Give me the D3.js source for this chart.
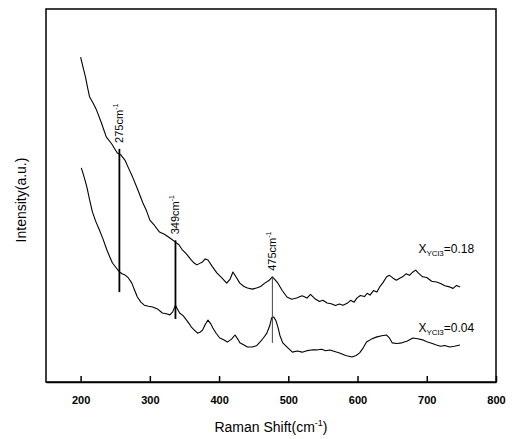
<!DOCTYPE html>
<html>
<head>
<meta charset="utf-8">
<script src="https://cdn.jsdelivr.net/npm/d3@7/dist/d3.min.js"></script>
<style>
  html, body { margin: 0; padding: 0; background: #fff; }
  svg { display: block; font-family: "Liberation Sans", Arial, sans-serif; }
</style>
</head>
<body>
<svg id="chart" width="518" height="439"></svg>
<script>
// Raman shift (cm-1) and intensity (a.u.) for X_YCl3 = 0.18 (upper curve)
const shiftHigh = [200, 204, 207, 210, 213, 218, 223, 230, 237, 245, 253, 258, 264, 270, 275, 282, 290, 295, 300, 307, 314, 321, 329, 337, 342, 347, 353, 360, 364, 368, 372, 376, 380, 384, 390, 397, 404, 411, 416, 420, 425, 430, 436, 441, 448, 454, 460, 466, 472, 477, 481, 485, 491, 498, 505, 512, 520, 527, 532, 538, 545, 550, 556, 562, 568, 574, 579, 585, 590, 595, 599, 604, 610, 614, 618, 623, 628, 632, 637, 642, 646, 651, 656, 661, 665, 670, 675, 680, 684, 688, 694, 700, 707, 714, 720, 726, 733, 738, 743, 748];
const intHigh  = [87.1, 84.0, 81.8, 79.0, 76.4, 74.8, 72.9, 69.5, 65.7, 63.8, 61.4, 60.9, 59.5, 57.0, 55.0, 51.8, 48.0, 46.0, 43.4, 41.9, 40.2, 39.6, 38.6, 37.5, 36.8, 35.4, 34.3, 32.7, 31.9, 31.4, 31.8, 32.2, 33.0, 32.7, 31.0, 29.2, 27.9, 26.5, 27.6, 29.5, 28.0, 26.5, 25.6, 25.2, 24.9, 25.2, 25.6, 26.5, 27.2, 28.2, 27.4, 26.5, 24.6, 22.8, 22.2, 22.5, 23.1, 22.5, 23.5, 22.4, 21.6, 21.9, 21.2, 21.0, 20.5, 20.9, 20.6, 21.1, 21.9, 21.4, 22.5, 23.2, 22.9, 23.8, 23.3, 24.5, 24.1, 25.5, 26.7, 28.2, 28.6, 27.9, 27.3, 27.8, 28.2, 29.0, 28.6, 29.5, 30.0, 29.2, 28.2, 28.0, 27.0, 26.8, 26.4, 25.8, 25.5, 25.1, 25.9, 25.5];

// Raman shift (cm-1) and intensity (a.u.) for X_YCl3 = 0.04 (lower curve)
const shiftLow = [201, 205, 209, 213, 217, 222, 227, 232, 238, 242, 246, 251, 256, 260, 264, 269, 274, 278, 282, 287, 292, 298, 304, 311, 318, 324, 329, 333, 337, 340, 343, 348, 353, 357, 360, 365, 369, 373, 376, 380, 384, 388, 391, 396, 401, 406, 412, 418, 423, 427, 430, 436, 441, 448, 454, 459, 464, 469, 473, 476, 479, 482, 485, 488, 492, 499, 506, 513, 520, 527, 534, 541, 548, 554, 560, 567, 574, 583, 592, 598, 603, 608, 613, 620, 628, 635, 642, 646, 650, 657, 664, 672, 680, 687, 694, 700, 707, 714, 720, 726, 733, 740, 748];
const intLow   = [57.4, 55.0, 52.3, 48.8, 45.6, 43.0, 40.8, 38.5, 35.4, 33.6, 31.9, 30.7, 29.5, 29.0, 28.7, 27.9, 26.5, 24.6, 22.8, 21.4, 20.6, 20.3, 20.1, 19.6, 18.5, 18.3, 18.0, 18.8, 20.6, 19.5, 18.5, 17.8, 16.6, 15.6, 14.7, 13.8, 13.1, 13.4, 13.9, 15.4, 16.6, 15.6, 14.5, 13.0, 11.8, 11.4, 10.7, 11.5, 12.6, 11.5, 10.5, 9.9, 9.4, 9.4, 9.7, 10.7, 11.8, 13.1, 15.0, 17.2, 17.4, 16.5, 14.7, 12.4, 10.5, 9.2, 8.0, 8.3, 8.0, 8.4, 8.6, 8.6, 8.8, 8.4, 8.6, 8.2, 7.8, 7.1, 6.7, 7.1, 7.8, 9.1, 10.7, 11.5, 12.1, 12.4, 12.6, 11.8, 10.5, 10.3, 10.5, 11.0, 11.8, 11.6, 11.3, 10.8, 10.4, 9.9, 9.6, 9.8, 9.4, 9.6, 9.9];

// Annotated peak markers: drawn position (cm-1), label, top and bottom of marker line (a.u.)
const peakPos    = [256, 337, 477];
const peakLabels = ["275", "349", "475"];
const peakTop    = [62.5, 38.0, 28.2];
const peakBottom = [24.1, 16.9, 10.5];

// Axis ticks
const xTicks = [200, 300, 400, 500, 600, 700, 800];

// Series labels
const seriesLabels = [
  { sub: "YCl3", val: "0.18", x: 688, y: 34.5 },
  { sub: "YCl3", val: "0.04", x: 688, y: 13.4 }
];

const svg = d3.select("#chart");
const mLeft = 46, mRight = 496, mTop = 9, mBottom = 382;

const x = d3.scaleLinear().domain([150, 800]).range([mLeft, mRight]);
const y = d3.scaleLinear().domain([0, 100]).range([mBottom, mTop]);

// Frame
svg.append("rect")
  .attr("x", mLeft).attr("y", mTop)
  .attr("width", mRight - mLeft).attr("height", mBottom - mTop)
  .attr("fill", "none").attr("stroke", "#000").attr("stroke-width", 1.5);

// X axis with inward ticks
const xAxis = d3.axisBottom(x).tickValues(xTicks).tickSizeInner(-6).tickSizeOuter(0).tickPadding(14);
const gx = svg.append("g").attr("transform", `translate(0,${mBottom})`).call(xAxis);
gx.select(".domain").attr("stroke", "#000").attr("stroke-width", 1.5);
gx.selectAll(".tick line").attr("stroke", "#000").attr("stroke-width", 1.5);
gx.selectAll(".tick text")
  .attr("font-size", 11).attr("font-weight", "bold")
  .attr("font-family", "'Liberation Sans', Arial, sans-serif").attr("fill", "#000");

// Axis titles
const xt = svg.append("text").attr("x", 271).attr("y", 432)
  .attr("text-anchor", "middle").attr("font-size", 14).attr("fill", "#000");
xt.append("tspan").text("Raman Shift(cm");
xt.append("tspan").attr("dy", -6).attr("font-size", 9).text("-1");
xt.append("tspan").attr("dy", 6).text(")");

svg.append("text")
  .attr("transform", "translate(26,200) rotate(-90)")
  .attr("text-anchor", "middle").attr("font-size", 14).attr("fill", "#000")
  .text("Intensity(a.u.)");

// Curves
const line = d3.line().x(d => x(d[0])).y(d => y(d[1]));
const dataHigh = shiftHigh.map((s, i) => [s, intHigh[i]]);
const dataLow = shiftLow.map((s, i) => [s, intLow[i]]);
[dataHigh, dataLow].forEach(d => {
  svg.append("path").datum(d).attr("d", line)
    .attr("fill", "none").attr("stroke", "#000").attr("stroke-width", 1.1)
    .attr("stroke-linejoin", "round");
});

// Peak markers
peakPos.forEach((p, i) => {
  svg.append("line")
    .attr("x1", x(p)).attr("x2", x(p))
    .attr("y1", y(peakTop[i])).attr("y2", y(peakBottom[i]))
    .attr("stroke", i === 2 ? "#444" : "#000")
    .attr("stroke-width", i === 2 ? 1 : 1.8);
  const t = svg.append("text")
    .attr("transform", `translate(${x(p) + 4},${y(peakTop[i]) - 6}) rotate(-90)`)
    .attr("font-size", 11).attr("fill", "#000");
  t.append("tspan").text(peakLabels[i] + "cm");
  t.append("tspan").attr("dy", -5).attr("font-size", 7).text("-1");
});

// Series labels
seriesLabels.forEach(l => {
  const t = svg.append("text").attr("x", x(l.x)).attr("y", y(l.y))
    .attr("font-size", 12).attr("fill", "#000");
  t.append("tspan").text("X");
  t.append("tspan").attr("dy", 3).attr("font-size", 8).text(l.sub);
  t.append("tspan").attr("dy", -3).text("=" + l.val);
});
</script>
</body>
</html>
